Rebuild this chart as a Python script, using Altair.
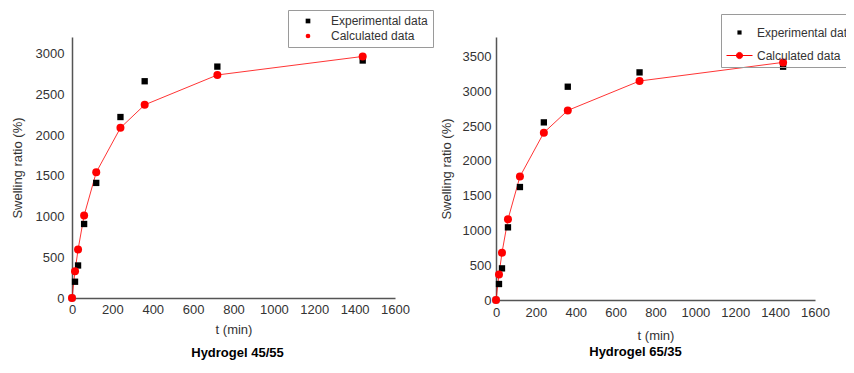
import altair as alt
import pandas as pd

# ---- data ----
times = [0, 15, 30, 60, 120, 240, 360, 720, 1440]
series_names = ["Experimental data", "Calculated data"]

exp_45_55 = [0, 200, 400, 910, 1415, 2225, 2665, 2845, 2920]
calc_45_55 = [0, 330, 595, 1015, 1545, 2092, 2375, 2742, 2970]

exp_65_35 = [0, 230, 455, 1045, 1625, 2555, 3068, 3274, 3356]
calc_65_35 = [0, 368, 680, 1160, 1775, 2407, 2727, 3150, 3418]

x_ticks = [0, 200, 400, 600, 800, 1000, 1200, 1400, 1600]
y_ticks_left = [0, 500, 1000, 1500, 2000, 2500, 3000]
y_ticks_right = [0, 500, 1000, 1500, 2000, 2500, 3000, 3500]

titles = ["Hydrogel 45/55", "Hydrogel  65/35"]

FONT = "Liberation Sans"
TXT = "#333333"
COLORS = ["#000000", "#ff0000"]

# legend symbols for the right panel (square, and circle with a line through it)
SQ_PATH = "M-0.16,-0.16L0.16,-0.16L0.16,0.16L-0.16,0.16Z"
CL_PATH = "M-1,0L1,0M-0.24,0A0.24,0.24 0 1,1 0.24,0A0.24,0.24 0 1,1 -0.24,0Z"


def make_df(exp, calc):
    rows = []
    for t, v in zip(times, exp):
        rows.append({"t": t, "v": v, "series": series_names[0]})
    for t, v in zip(times, calc):
        rows.append({"t": t, "v": v, "series": series_names[1]})
    return pd.DataFrame(rows)


def panel(df, ymax, yvals, width, height, title, tdx, toff,
          xlabpad, xtitlepad, ylabpad, ytitlepad, legend, shapes, strokes):
    base = alt.Chart(df)
    x = alt.X("t:Q", scale=alt.Scale(domain=[0, 1600], nice=False),
              axis=alt.Axis(values=x_ticks, title="t (min)", labelPadding=xlabpad,
                            titlePadding=xtitlepad, format="d"))
    y = alt.Y("v:Q", scale=alt.Scale(domain=[0, ymax], nice=False),
              axis=alt.Axis(values=yvals, title="Swelling ratio (%)", format="d",
                            labelPadding=ylabpad, titlePadding=ytitlepad))
    line = base.transform_filter(alt.datum.series == series_names[1]).mark_line(
        color="#ff0000", strokeWidth=0.8).encode(x=x, y=y)
    exp_pts = base.transform_filter(alt.datum.series == series_names[0]).mark_point(
        filled=True, opacity=1, shape="square", size=40, color="#000000").encode(x=x, y=y)
    calc_pts = base.transform_filter(alt.datum.series == series_names[1]).mark_point(
        filled=True, opacity=1, shape="circle", size=64, color="#ff0000").encode(x=x, y=y)
    enc = dict(
        x=x, y=y,
        color=alt.Color("series:N", scale=alt.Scale(domain=series_names, range=COLORS),
                        legend=legend),
        shape=alt.Shape("series:N", scale=alt.Scale(domain=series_names, range=shapes),
                        legend=legend),
    )
    if strokes is not None:
        enc["stroke"] = alt.Stroke("series:N",
                                   scale=alt.Scale(domain=series_names, range=strokes),
                                   legend=legend)
    legend_layer = base.transform_filter("false").mark_point(filled=True).encode(**enc)
    return alt.layer(line, exp_pts, calc_pts, legend_layer).properties(
        width=width, height=height,
        title=alt.TitleParams(title, orient="bottom", anchor="middle", dx=tdx,
                              offset=toff, font=FONT, fontSize=13, fontWeight="bold",
                              color="#000000"),
    )


def make_legend(lx, ly, size, symoff, laboff, sw):
    return alt.Legend(title=None, orient="none", legendX=lx, legendY=ly,
                      strokeColor="#9a9a9a", padding=5, rowPadding=3,
                      labelFont=FONT, labelFontSize=12, labelColor=TXT,
                      symbolOffset=symoff, labelOffset=laboff, symbolSize=size,
                      symbolStrokeWidth=sw, symbolOpacity=1)


left = panel(make_df(exp_45_55, calc_45_55), 3209, y_ticks_left, 323, 261,
             titles[0], 4, 11, 5, 7, 8, 11,
             make_legend(216, -27, 22, 9, 17, 0), ["square", "circle"], None)
right = panel(make_df(exp_65_35, calc_65_35), 3783, y_ticks_right, 319, 263,
              titles[1], -20, 4, 6, 10, 5, 9,
              make_legend(225, -23, 676, 0, 4, 1), [SQ_PATH, CL_PATH],
              ["transparent", "#ff0000"])

chart = alt.hconcat(left, right, spacing=6).resolve_scale(
    color="independent", shape="independent", stroke="independent"
).resolve_legend(
    color="independent", shape="independent", stroke="independent"
).properties(
    padding={"left": 3, "top": 1, "right": -14, "bottom": 0},
    background="white",
).configure_view(stroke=None).configure_axis(
    grid=False, ticks=False, tickSize=0, domainColor="#555555", domainWidth=1.5,
    labelFont=FONT, labelFontSize=13, labelColor=TXT, labelOverlap=False,
    labelFlush=False,
    titleFont=FONT, titleFontSize=13, titleFontWeight="normal", titleColor=TXT,
)

chart.save("out.html", embed_options={"renderer": "svg", "actions": False})
